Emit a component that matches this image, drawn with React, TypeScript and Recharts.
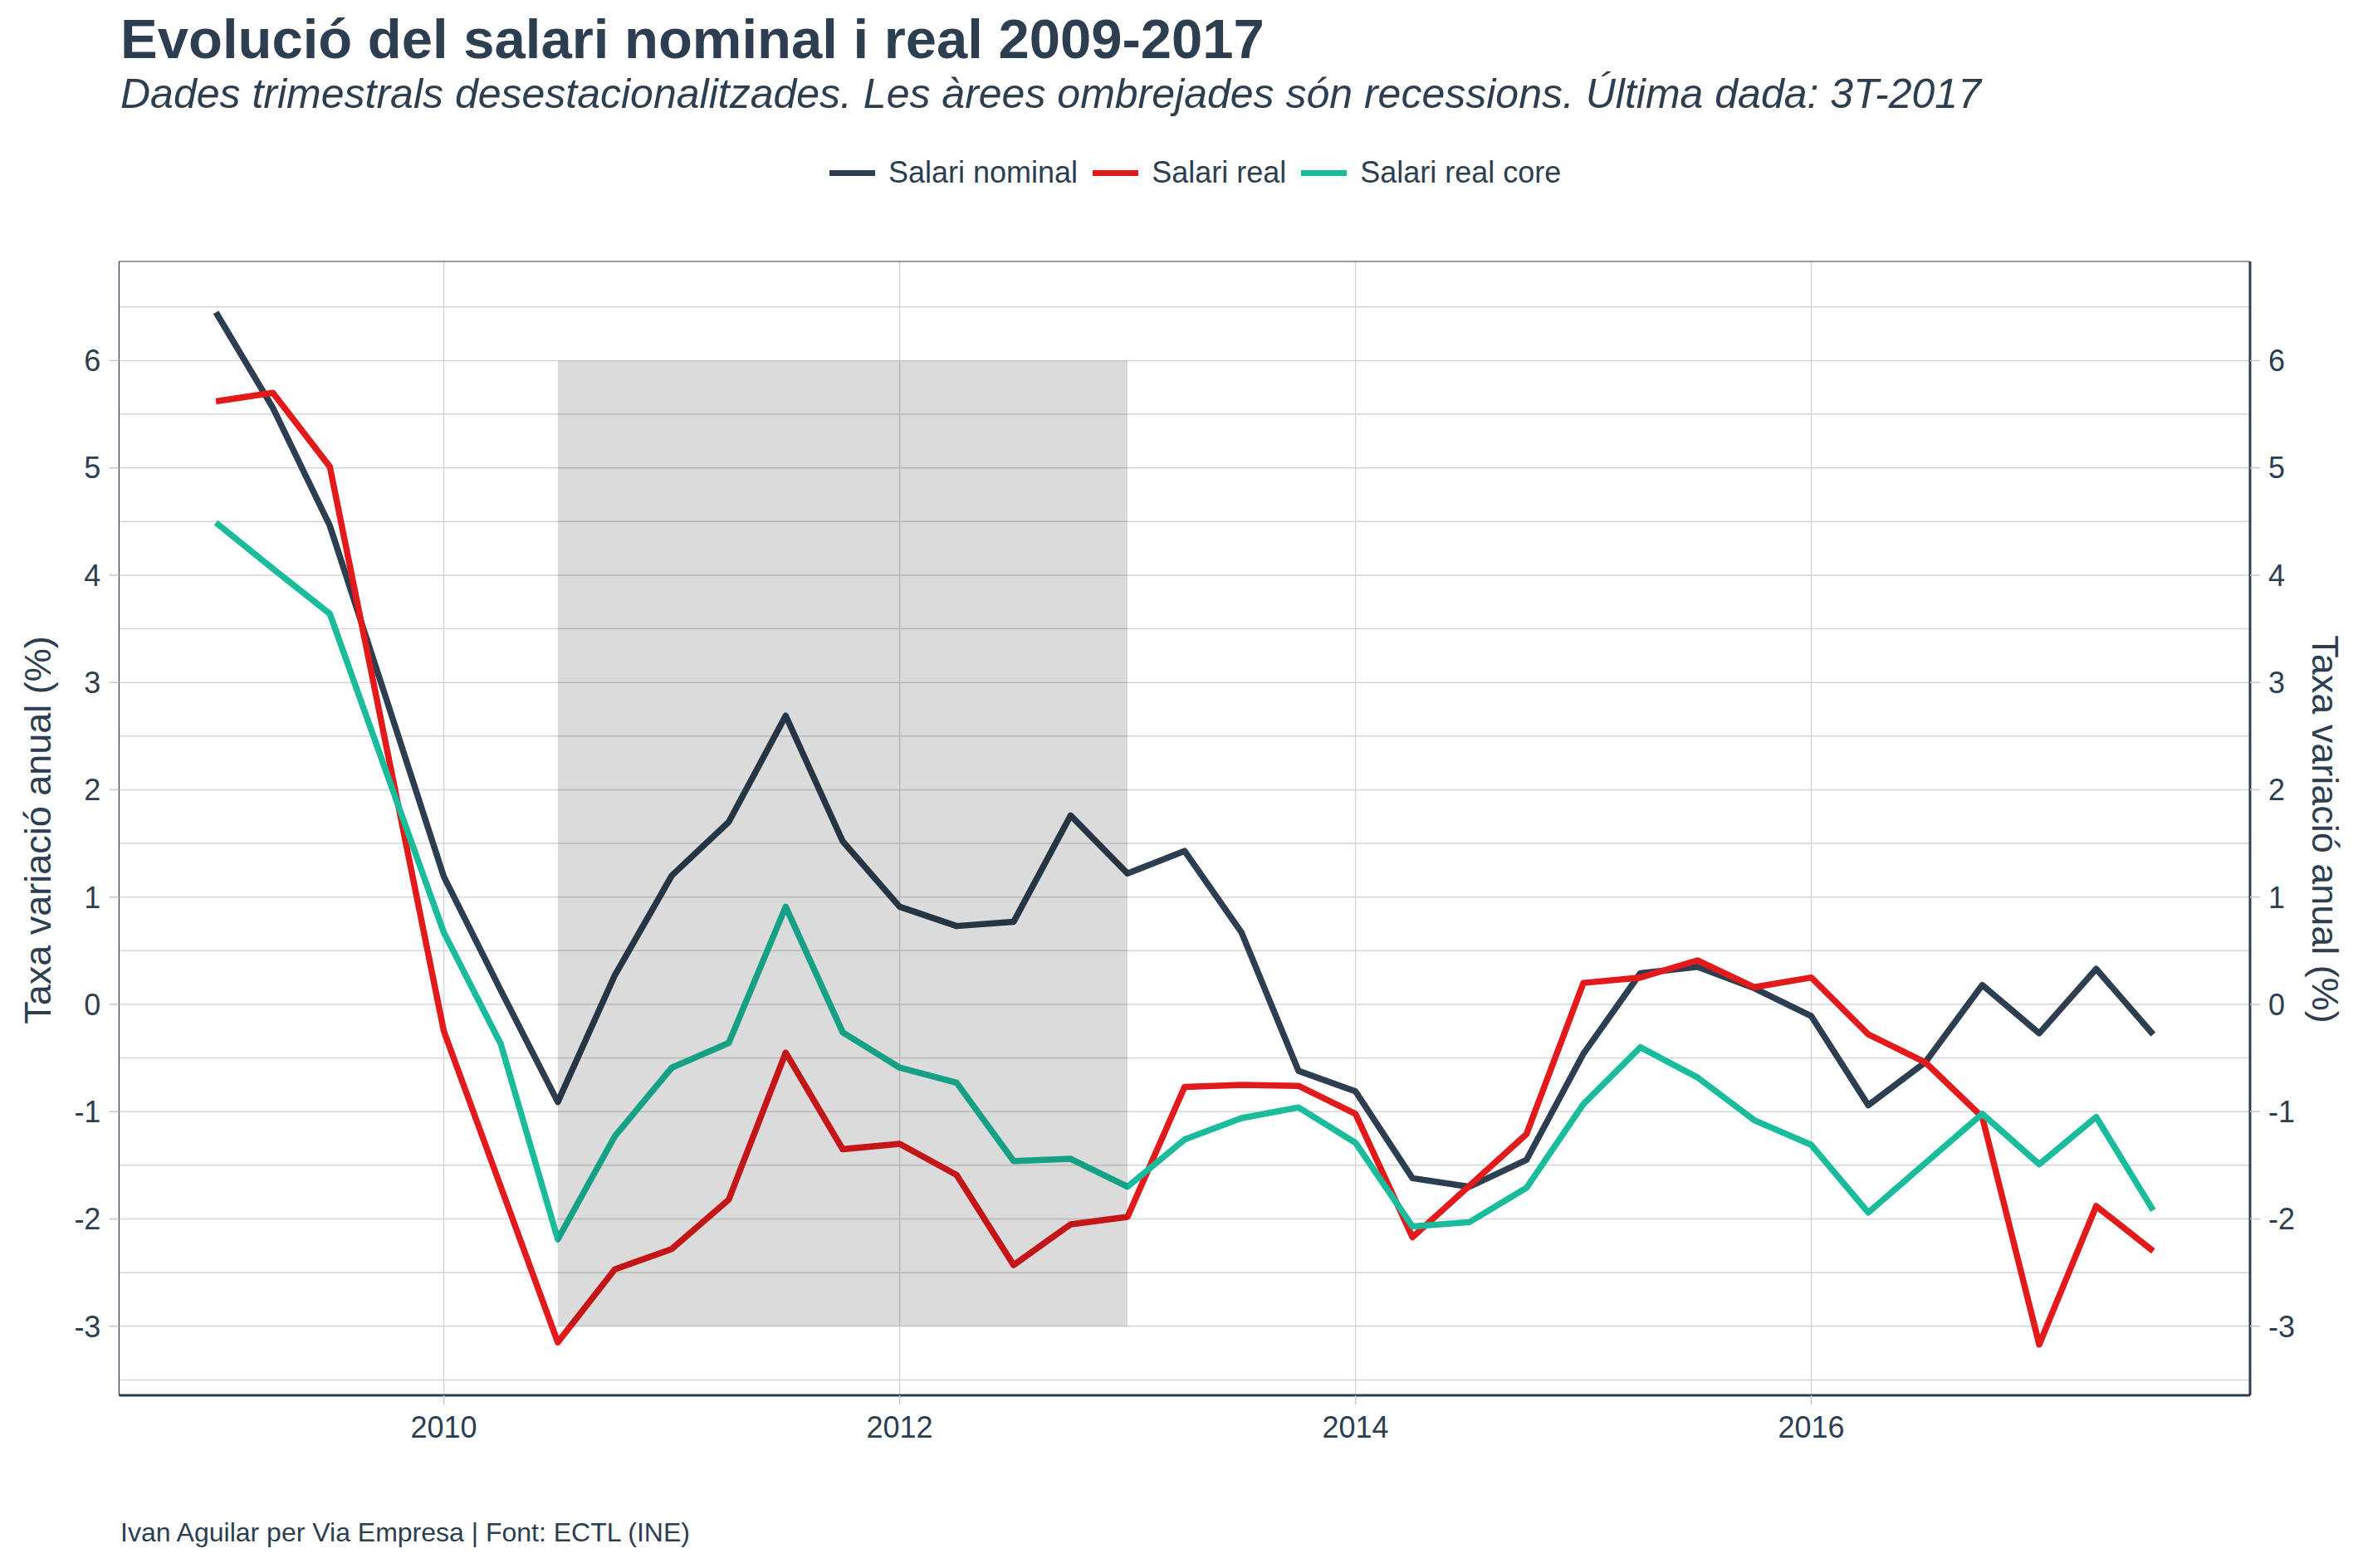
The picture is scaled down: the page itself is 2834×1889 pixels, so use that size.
import { LineChart, Line, XAxis, YAxis, CartesianGrid, ReferenceArea, ReferenceLine } from 'recharts'

const trimestres = [
  2009, 2009.25, 2009.5, 2009.75, 2010, 2010.25, 2010.5, 2010.75,
  2011, 2011.25, 2011.5, 2011.75, 2012, 2012.25, 2012.5, 2012.75,
  2013, 2013.25, 2013.5, 2013.75, 2014, 2014.25, 2014.5, 2014.75,
  2015, 2015.25, 2015.5, 2015.75, 2016, 2016.25, 2016.5, 2016.75,
  2017, 2017.25, 2017.5,
]

const salariNominal = [
  6.45, 5.56, 4.46, 2.83, 1.19, 0.13, -0.91, 0.27,
  1.2, 1.7, 2.69, 1.52, 0.91, 0.73, 0.77, 1.76,
  1.22, 1.43, 0.67, -0.62, -0.81, -1.62, -1.7, -1.45,
  -0.46, 0.29, 0.35, 0.15, -0.11, -0.94, -0.54, 0.18,
  -0.27, 0.33, -0.28,
]

const salariReal = [
  5.62, 5.7, 5.01, 2.38, -0.25, -1.7, -3.15, -2.47,
  -2.28, -1.82, -0.45, -1.35, -1.3, -1.59, -2.43, -2.05,
  -1.98, -0.77, -0.75, -0.76, -1.02, -2.17, -1.69, -1.21,
  0.2, 0.25, 0.41, 0.16, 0.25, -0.28, -0.54, -1.05,
  -3.17, -1.88, -2.3,
]

const salariRealCore = [
  4.49, 4.06, 3.64, 2.15, 0.67, -0.37, -2.19, -1.23,
  -0.59, -0.36, 0.91, -0.26, -0.59, -0.73, -1.46, -1.44,
  -1.7, -1.26, -1.06, -0.96, -1.29, -2.07, -2.03, -1.71,
  -0.93, -0.4, -0.68, -1.08, -1.31, -1.94, -1.48, -1.02,
  -1.49, -1.05, -1.92,
]

const anysEix = [2010, 2012, 2014, 2016]
const valorsEix = [-3, -2, -1, 0, 1, 2, 3, 4, 5, 6]
const valorsGraella = [-3.5, -3, -2.5, -2, -1.5, -1, -0.5, 0, 0.5, 1, 1.5, 2, 2.5, 3, 3.5, 4, 4.5, 5, 5.5, 6, 6.5]
const recessio = [2010.5, 2013, -3, 6]

const series = [
  { key: 'nominal', name: 'Salari nominal', color: '#2C3E50' },
  { key: 'real', name: 'Salari real', color: '#E31A1C' },
  { key: 'core', name: 'Salari real core', color: '#1ABC9C' },
]

const data = trimestres.map((t, i) => ({
  t,
  nominal: salariNominal[i],
  real: salariReal[i],
  core: salariRealCore[i],
}))

const FONT = '"Liberation Sans", Arial, sans-serif'
const INK = '#2C3E50'
const X_DOMAIN: [number, number] = [2008.575, 2017.925]
const Y_DOMAIN: [number, number] = [-3.644, 6.924]

const tickStyle = { fill: INK, fontSize: 36, fontFamily: FONT }

export default function App() {
  return (
    <div style={{ position: 'relative', width: 2834, height: 1889, background: '#fff', fontFamily: FONT, color: INK }}>
      <style>{'body{margin:0}'}</style>
      <div style={{ position: 'absolute', left: 145, top: 13, fontSize: 67, fontWeight: 700, lineHeight: 1, whiteSpace: 'nowrap' }}>
        Evolució del salari nominal i real 2009-2017
      </div>
      <div style={{ position: 'absolute', left: 145, top: 88, fontSize: 50, fontStyle: 'italic', lineHeight: 1, whiteSpace: 'nowrap' }}>
        Dades trimestrals desestacionalitzades. Les àrees ombrejades són recessions. Última dada: 3T-2017
      </div>

      <div style={{ position: 'absolute', left: 999, top: 190, height: 36, display: 'flex', alignItems: 'center', fontSize: 36, lineHeight: 1 }}>
        {series.map(s => (
          <div key={s.key} style={{ display: 'flex', alignItems: 'center', marginRight: 18 }}>
            <div style={{ width: 55, height: 7, background: s.color, marginRight: 16 }} />
            <span style={{ whiteSpace: 'nowrap' }}>{s.name}</span>
          </div>
        ))}
      </div>

      <div style={{ position: 'absolute', left: 0, top: 0 }}>
        <LineChart width={2834} height={1889} data={data} margin={{ top: 315, right: 24, bottom: 148, left: 43.4 }}>
          <CartesianGrid
            yAxisId="left"
            stroke="#D6D6D6"
            strokeWidth={1.5}
            horizontalValues={valorsGraella}
            verticalValues={anysEix}
          />
          <XAxis
            dataKey="t"
            type="number"
            domain={X_DOMAIN}
            allowDataOverflow
            ticks={anysEix}
            height={60}
            tickSize={11}
            tickMargin={14}
            tick={tickStyle}
            tickLine={{ stroke: '#C8C8C8', strokeWidth: 1.5 }}
            axisLine={{ stroke: INK, strokeWidth: 3 }}
          />
          <YAxis
            yAxisId="left"
            orientation="left"
            domain={Y_DOMAIN}
            allowDataOverflow
            ticks={valorsEix}
            width={100}
            tickSize={12}
            tickMargin={10}
            tick={tickStyle}
            tickLine={{ stroke: '#C8C8C8', strokeWidth: 1.5 }}
            axisLine={{ stroke: INK, strokeWidth: 1.2 }}
          />
          <YAxis
            yAxisId="right"
            orientation="right"
            domain={Y_DOMAIN}
            allowDataOverflow
            ticks={valorsEix}
            width={100}
            tickSize={12}
            tickMargin={10}
            tick={tickStyle}
            tickLine={{ stroke: '#C8C8C8', strokeWidth: 1.5 }}
            axisLine={{ stroke: INK, strokeWidth: 3 }}
          />
          <ReferenceLine yAxisId="left" y={Y_DOMAIN[1]} stroke={INK} strokeWidth={1.2} />
          {series.map(s => (
            <Line
              key={s.key}
              yAxisId="left"
              type="linear"
              dataKey={s.key}
              name={s.name}
              stroke={s.color}
              strokeWidth={7.5}
              strokeLinejoin="round"
              dot={false}
              activeDot={false}
              isAnimationActive={false}
            />
          ))}
          <ReferenceArea
            yAxisId="left"
            x1={recessio[0]}
            x2={recessio[1]}
            y1={recessio[2]}
            y2={recessio[3]}
            fill="#000"
            fillOpacity={0.14}
            stroke="none"
            zIndex={1000}
          />
        </LineChart>
      </div>

      <div style={{ position: 'absolute', left: 45, top: 1000, transform: 'translate(-50%, -50%) rotate(-90deg)', fontSize: 45, lineHeight: 1, whiteSpace: 'nowrap' }}>
        Taxa variació anual (%)
      </div>
      <div style={{ position: 'absolute', left: 2800, top: 999, transform: 'translate(-50%, -50%) rotate(90deg)', fontSize: 45, lineHeight: 1, whiteSpace: 'nowrap' }}>
        Taxa variació anual (%)
      </div>

      <div style={{ position: 'absolute', left: 145, top: 1830, fontSize: 32, lineHeight: 1, whiteSpace: 'nowrap' }}>
        Ivan Aguilar per Via Empresa | Font: ECTL (INE)
      </div>
    </div>
  )
}
